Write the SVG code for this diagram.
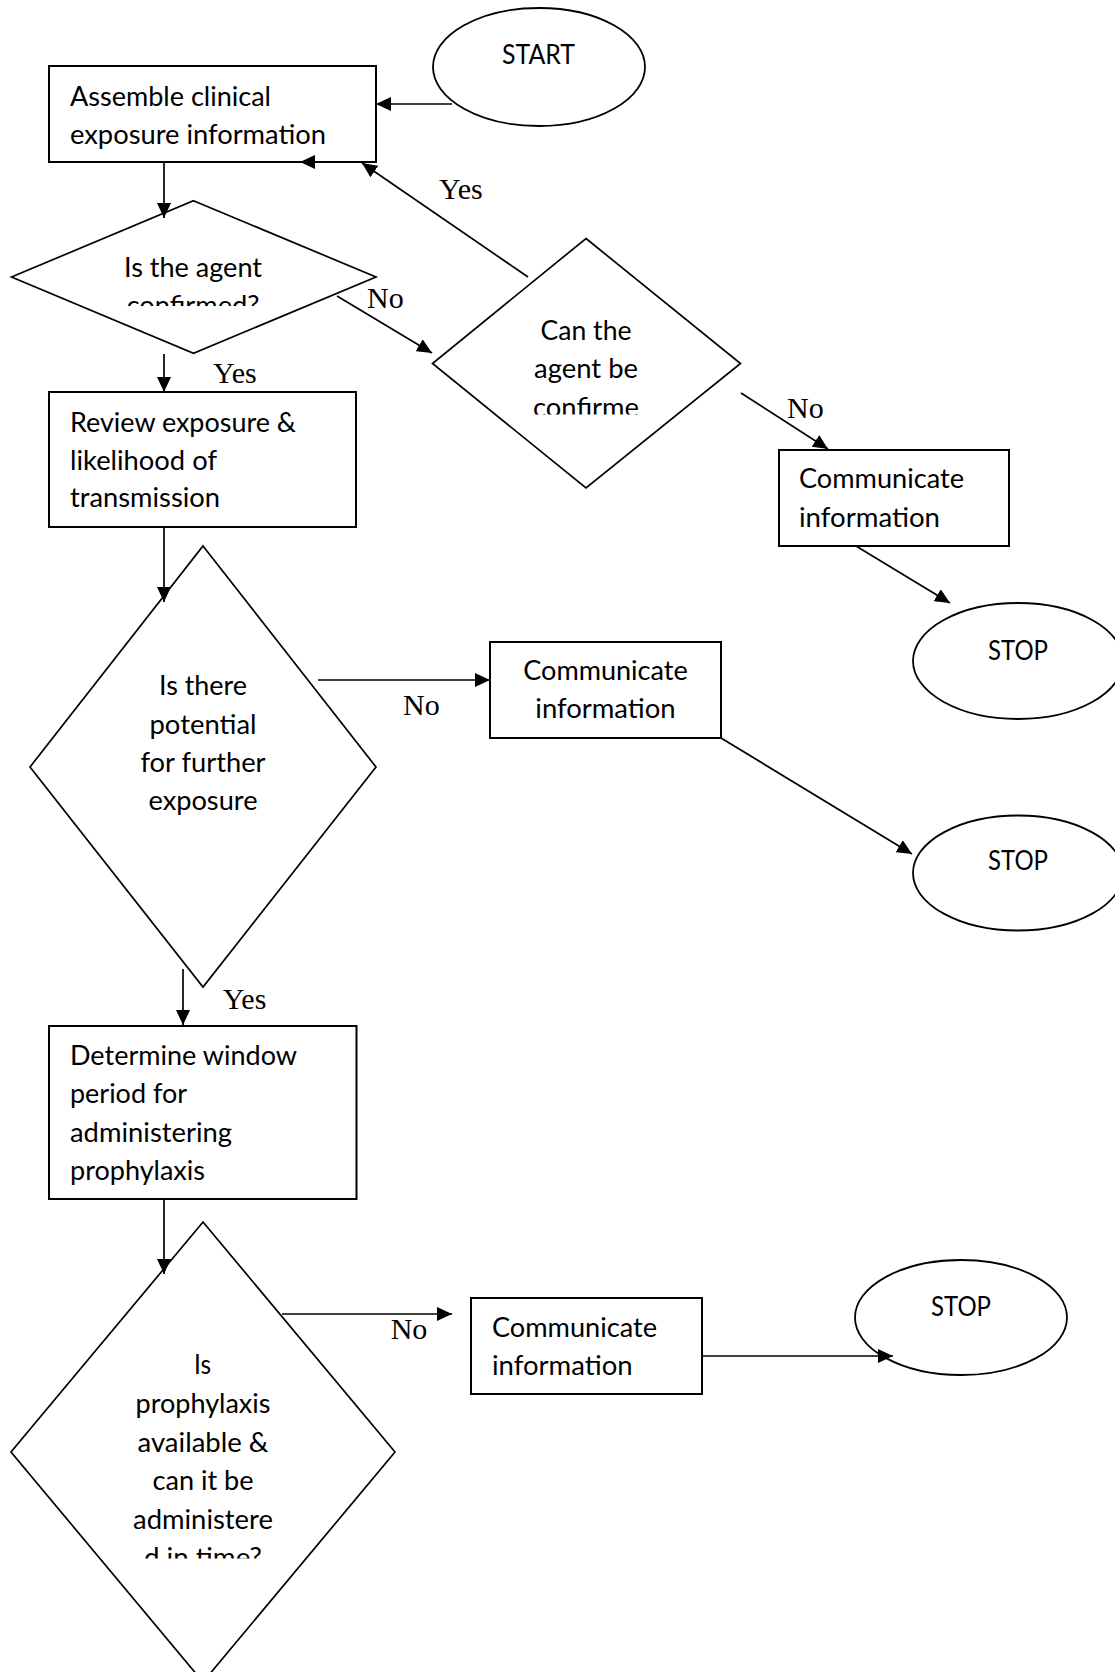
<svg xmlns="http://www.w3.org/2000/svg" width="1115" height="1672" viewBox="0 0 1115 1672">
<style>
.box{fill:#fff;stroke:#000;stroke-width:2}
.dia{fill:#fff;stroke:#000;stroke-width:1.7}
.ell{fill:#fff;stroke:#000;stroke-width:1.8}
.t{font-family:Lato,"Open Sans","DejaVu Sans",sans-serif;font-size:27px;fill:#000}
.c{text-anchor:middle}
.lbl{font-family:"Liberation Serif","Times New Roman",serif;font-size:30px;fill:#000}
.con{fill:none;stroke:#000;stroke-width:1.7;marker-end:url(#ah)}
</style>
<defs>
<marker id="ah" markerUnits="userSpaceOnUse" markerWidth="16" markerHeight="14" refX="15" refY="7" orient="auto">
<path d="M0,0 L15,7 L0,14 z" fill="#000"/>
</marker>
<clipPath id="clipD1"><rect x="0" y="180" width="400" height="126"/></clipPath>
<clipPath id="clipD2"><rect x="430" y="230" width="320" height="184.5"/></clipPath>
<clipPath id="clipD4"><rect x="0" y="1220" width="400" height="338.5"/></clipPath>
</defs>

<g id="start">
<ellipse class="ell" cx="539" cy="67" rx="106" ry="59"/>
<text class="t c" x="538.5" y="64" textLength="73" lengthAdjust="spacingAndGlyphs">START</text>
</g>

<g id="assemble">
<rect class="box" x="49" y="66" width="327" height="96"/>
<text class="t" x="70" y="106" textLength="201" lengthAdjust="spacingAndGlyphs">Assemble clinical</text>
<text class="t" x="70" y="144" textLength="256" lengthAdjust="spacingAndGlyphs">exposure information</text>
</g>

<g id="agent-confirmed">
<polygon class="dia" points="193.5,200.7 376,277 193.5,353.3 11.5,277"/>
<g clip-path="url(#clipD1)">
<text class="t c" x="193" y="277" textLength="138" lengthAdjust="spacingAndGlyphs">Is the agent</text>
<text class="t c" x="193" y="315" textLength="133" lengthAdjust="spacingAndGlyphs">confirmed?</text>
</g>
</g>

<g id="can-confirm">
<polygon class="dia" points="586,238.5 740.5,363.5 586,488 432.5,363.5"/>
<g clip-path="url(#clipD2)">
<text class="t c" x="586" y="340" textLength="91" lengthAdjust="spacingAndGlyphs">Can the</text>
<text class="t c" x="586" y="378" textLength="104" lengthAdjust="spacingAndGlyphs">agent be</text>
<text class="t c" x="586" y="417" textLength="106" lengthAdjust="spacingAndGlyphs">confirme</text>
</g>
</g>

<g id="communicate-1">
<rect class="box" x="779" y="450" width="230" height="96"/>
<text class="t" x="799" y="488" textLength="165" lengthAdjust="spacingAndGlyphs">Communicate</text>
<text class="t" x="799" y="527" textLength="141" lengthAdjust="spacingAndGlyphs">information</text>
</g>

<g id="stop-1">
<ellipse class="ell" cx="1018" cy="661" rx="105" ry="58"/>
<text class="t c" x="1018" y="659.5" textLength="60" lengthAdjust="spacingAndGlyphs">STOP</text>
</g>

<g id="review">
<rect class="box" x="49" y="392" width="307" height="135"/>
<text class="t" x="70" y="432" textLength="226" lengthAdjust="spacingAndGlyphs">Review exposure &amp;</text>
<text class="t" x="70" y="469.5" textLength="147" lengthAdjust="spacingAndGlyphs">likelihood of</text>
<text class="t" x="70" y="507" textLength="150" lengthAdjust="spacingAndGlyphs">transmission</text>
</g>

<g id="further-exposure">
<polygon class="dia" points="203,546 376,767 203,987 30,767"/>
<text class="t c" x="203" y="695" textLength="88" lengthAdjust="spacingAndGlyphs">Is there</text>
<text class="t c" x="203" y="733.5" textLength="107" lengthAdjust="spacingAndGlyphs">potential</text>
<text class="t c" x="203" y="772" textLength="125" lengthAdjust="spacingAndGlyphs">for further</text>
<text class="t c" x="203" y="810" textLength="109" lengthAdjust="spacingAndGlyphs">exposure</text>
</g>

<g id="communicate-2">
<rect class="box" x="490" y="642" width="231" height="96"/>
<text class="t c" x="605.5" y="680" textLength="164.5" lengthAdjust="spacingAndGlyphs">Communicate</text>
<text class="t c" x="605.5" y="718" textLength="140.4" lengthAdjust="spacingAndGlyphs">information</text>
</g>

<g id="stop-2">
<ellipse class="ell" cx="1018" cy="873" rx="105" ry="57.5"/>
<text class="t c" x="1018" y="870" textLength="60" lengthAdjust="spacingAndGlyphs">STOP</text>
</g>

<g id="determine">
<rect class="box" x="49" y="1026" width="307.5" height="173"/>
<text class="t" x="70" y="1065" textLength="227" lengthAdjust="spacingAndGlyphs">Determine window</text>
<text class="t" x="70" y="1103.3" textLength="117" lengthAdjust="spacingAndGlyphs">period for</text>
<text class="t" x="70" y="1141.7" textLength="162" lengthAdjust="spacingAndGlyphs">administering</text>
<text class="t" x="70" y="1180" textLength="135" lengthAdjust="spacingAndGlyphs">prophylaxis</text>
</g>

<g id="prophylaxis-available">
<polygon class="dia" points="203,1222 395,1452 203,1682 11,1452"/>
<g clip-path="url(#clipD4)">
<text class="t c" x="202.5" y="1374" textLength="17" lengthAdjust="spacingAndGlyphs">Is</text>
<text class="t c" x="203" y="1413" textLength="135" lengthAdjust="spacingAndGlyphs">prophylaxis</text>
<text class="t c" x="203" y="1452" textLength="131" lengthAdjust="spacingAndGlyphs">available &amp;</text>
<text class="t c" x="203" y="1490" textLength="101" lengthAdjust="spacingAndGlyphs">can it be</text>
<text class="t c" x="203" y="1529" textLength="140" lengthAdjust="spacingAndGlyphs">administere</text>
<text class="t c" x="203" y="1567" textLength="118" lengthAdjust="spacingAndGlyphs">d in time?</text>
</g>
</g>

<g id="communicate-3">
<rect class="box" x="471" y="1298" width="231" height="96"/>
<text class="t" x="492" y="1336.7" textLength="165" lengthAdjust="spacingAndGlyphs">Communicate</text>
<text class="t" x="492" y="1375" textLength="140.6" lengthAdjust="spacingAndGlyphs">information</text>
</g>

<g id="stop-3">
<ellipse class="ell" cx="961" cy="1317.5" rx="106" ry="57.5"/>
<text class="t c" x="961" y="1316" textLength="60" lengthAdjust="spacingAndGlyphs">STOP</text>
</g>

<g id="connectors">
<line class="con" x1="452" y1="104" x2="376" y2="104"/>
<line class="con" x1="337" y1="162" x2="300" y2="162"/>
<line class="con" x1="528" y1="277" x2="362" y2="163"/>
<line class="con" x1="164" y1="162" x2="164" y2="218"/>
<line class="con" x1="337" y1="296" x2="432" y2="353"/>
<line class="con" x1="164" y1="354" x2="164" y2="392"/>
<line class="con" x1="741" y1="393" x2="828" y2="449"/>
<line class="con" x1="856" y1="546" x2="950" y2="603"/>
<line class="con" x1="164" y1="527" x2="164" y2="602"/>
<line class="con" x1="318" y1="680" x2="490" y2="680"/>
<line class="con" x1="721" y1="738" x2="912" y2="854"/>
<line class="con" x1="183" y1="969" x2="183" y2="1025"/>
<line class="con" x1="164" y1="1199" x2="164" y2="1274"/>
<line class="con" x1="282" y1="1314" x2="452" y2="1314"/>
<line class="con" x1="702" y1="1356" x2="893" y2="1356"/>
<text class="lbl" x="439" y="199">Yes</text>
<text class="lbl" x="367" y="308">No</text>
<text class="lbl" x="213" y="383">Yes</text>
<text class="lbl" x="787" y="418">No</text>
<text class="lbl" x="403" y="714.7">No</text>
<text class="lbl" x="222.7" y="1008.7">Yes</text>
<text class="lbl" x="390.7" y="1339.3">No</text>
</g>
</svg>
